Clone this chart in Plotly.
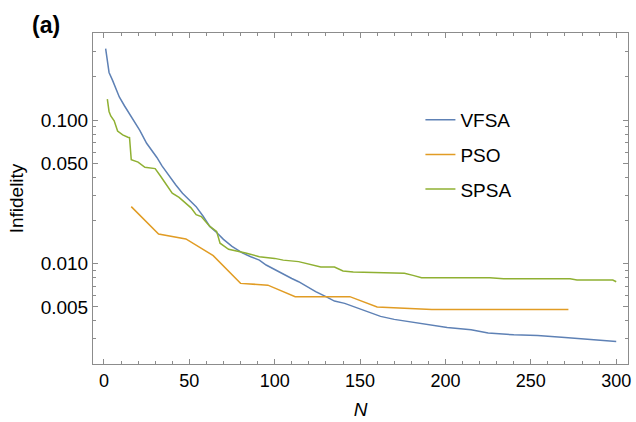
import plotly.graph_objects as go

# ---- data ----
vfsa_n = [1, 2, 3, 5, 7, 9, 12, 15, 18, 21, 25, 28, 31, 34, 38, 42, 46, 50, 54, 58,
          62, 66, 70, 75, 81, 86, 91, 95, 100, 106, 110, 114, 118, 124, 130, 135,
          141, 145, 149, 155, 162, 170, 182, 192, 201, 215, 225, 240, 254, 270, 285, 300]
vfsa_v = [0.315, 0.25, 0.215, 0.19, 0.165, 0.145, 0.126, 0.111, 0.097, 0.085, 0.069,
          0.062, 0.055, 0.048, 0.041, 0.0355, 0.031, 0.0278, 0.025, 0.0215, 0.0182,
          0.0165, 0.0148, 0.0132, 0.0119, 0.0112, 0.0106, 0.0098, 0.0091, 0.0084,
          0.0079, 0.0075, 0.0070, 0.0064, 0.0059, 0.0055, 0.0053, 0.0051, 0.0049,
          0.0046, 0.0043, 0.0041, 0.0039, 0.0037, 0.0036, 0.00347, 0.0033, 0.0032,
          0.00316, 0.00307, 0.00299, 0.00288]

pso_n = [16, 32, 48, 64, 80, 96, 112, 128, 144, 160, 176, 192, 208, 224, 240, 256, 272]
pso_v = [0.025, 0.0161, 0.0149, 0.0114, 0.0073, 0.0071, 0.0059, 0.0059, 0.0059,
         0.0050, 0.0049, 0.0048, 0.0048, 0.0048, 0.0048, 0.0048, 0.0048]

spsa_n = [2, 3, 4, 6, 8, 11, 14, 15, 16, 20, 24, 30, 33, 37, 40, 44, 47, 51, 54, 57,
          62, 66, 68, 73, 83, 91, 100, 105, 114, 120, 127, 135, 140, 146, 160, 176,
          181, 186, 226, 234, 273, 277, 298, 300]
spsa_v = [0.140, 0.115, 0.107, 0.099, 0.084, 0.079, 0.076, 0.0755, 0.053, 0.051,
          0.047, 0.046, 0.041, 0.035, 0.031, 0.029, 0.027, 0.0245, 0.022, 0.0213,
          0.0182, 0.0168, 0.0139, 0.0126, 0.0119, 0.0112, 0.0109, 0.0106, 0.01035,
          0.0100, 0.0095, 0.0095, 0.0089, 0.00875, 0.0087, 0.0086, 0.0083, 0.0080,
          0.0080, 0.00785, 0.00785, 0.0077, 0.0077, 0.0075]

x_ticks = [0, 50, 100, 150, 200, 250, 300]
x_minor = list(range(0, 310, 10))
y_ticks = [0.005, 0.010, 0.050, 0.100]
y_tick_labels = ["0.005", "0.010", "0.050", "0.100"]
y_minor = [0.002, 0.003, 0.004, 0.006, 0.007, 0.008, 0.009,
           0.02, 0.03, 0.04, 0.06, 0.07, 0.08, 0.09, 0.2, 0.3, 0.4]

BLUE, ORANGE, GREEN = "#5E81B5", "#E19C24", "#8FB032"
FONT = "Liberation Sans, Arial, sans-serif"

fig = go.Figure()
for name, xs, ys, col in [("VFSA", vfsa_n, vfsa_v, BLUE),
                          ("PSO", pso_n, pso_v, ORANGE),
                          ("SPSA", spsa_n, spsa_v, GREEN)]:
    fig.add_trace(go.Scatter(x=xs, y=ys, mode="lines", name=name, legendgroup=name,
                             line=dict(color=col, width=1.5)))

axcol = "#8c8c8c"
fig.update_layout(
    width=636, height=422,
    margin=dict(l=93, r=5, t=33, b=58),
    paper_bgcolor="white", plot_bgcolor="white",
    font=dict(family=FONT, size=18, color="black"),
    showlegend=True,
    legend=dict(x=0.612, y=0.795, xanchor="left", yanchor="top",
                bgcolor="rgba(0,0,0,0)", borderwidth=0,
                font=dict(size=19), tracegroupgap=7, traceorder="grouped"),
    xaxis=dict(range=[-6.4, 306.9], tickvals=x_ticks, ticks="inside", ticklen=5,
               tickcolor=axcol, showline=True, linecolor=axcol, linewidth=1,
               mirror="allticks", showgrid=False, zeroline=False,
               tickfont=dict(size=18),
               minor=dict(tickvals=x_minor, ticks="inside", ticklen=3,
                          tickcolor=axcol, showgrid=False),
               title=dict(text="<i>N</i>", standoff=13, font=dict(size=19))),
    yaxis=dict(type="log", range=[-2.698, -0.393], tickvals=y_ticks,
               ticktext=y_tick_labels, ticks="inside", ticklen=5, tickcolor=axcol,
               showline=True, linecolor=axcol, linewidth=1, mirror="allticks",
               showgrid=False, zeroline=False, tickfont=dict(size=19),
               minor=dict(tickvals=y_minor, ticks="inside", ticklen=3,
                          tickcolor=axcol, showgrid=False),
               title=dict(text="Infidelity", standoff=12, font=dict(size=19))),
)
fig.add_annotation(text="<b>(a)</b>", xref="paper", yref="paper", x=-0.117, y=1.023,
                   xanchor="left", yanchor="middle", showarrow=False,
                   font=dict(size=23, family=FONT, color="black"))
fig.write_html("out.html", config={"displayModeBar": False},
               post_script="document.body.style.margin='0';document.body.style.padding='0';")
